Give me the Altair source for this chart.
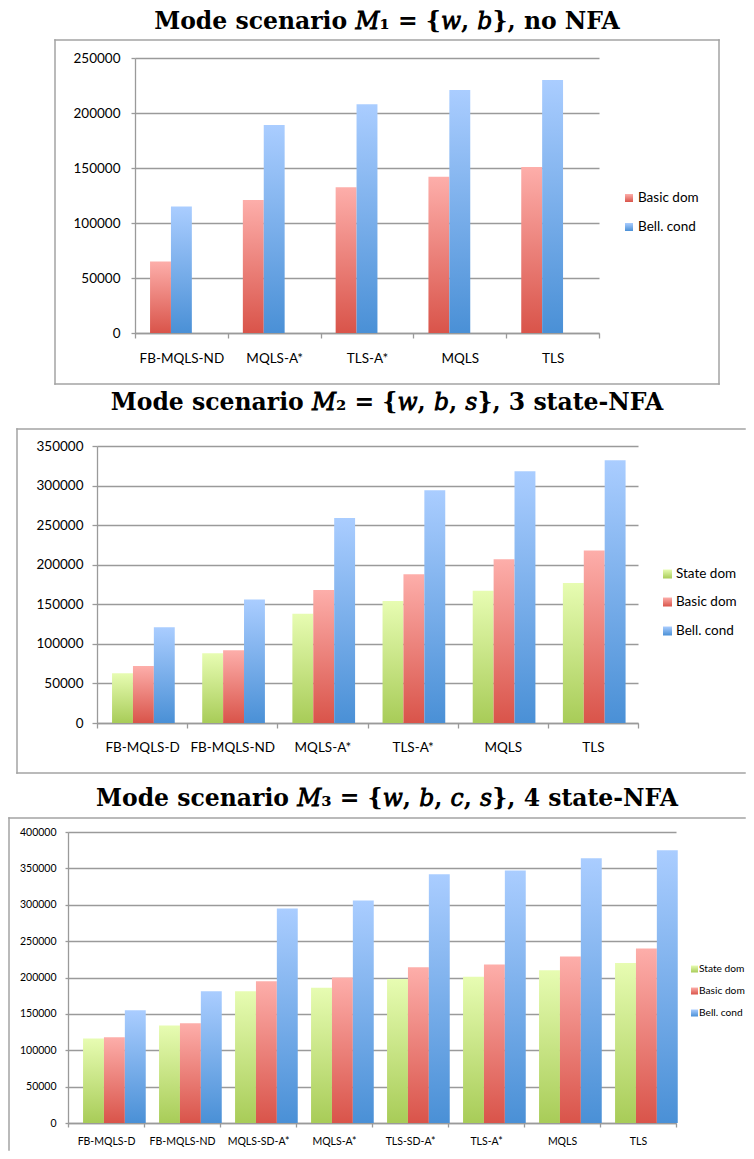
import altair as alt
import pandas as pd

# ---------------- data ----------------
series_names = ["State dom", "Basic dom", "Bell. cond"]

cats1 = ["FB-MQLS-ND", "MQLS-A*", "TLS-A*", "MQLS", "TLS"]
basic1 = [65000, 121000, 132500, 142000, 151000]
bell1 = [115000, 189000, 208000, 221000, 230000]

cats2 = ["FB-MQLS-D", "FB-MQLS-ND", "MQLS-A*", "TLS-A*", "MQLS", "TLS"]
state2 = [63000, 88000, 138000, 154000, 167000, 177000]
basic2 = [72000, 92000, 168000, 188000, 207000, 218000]
bell2 = [121000, 156000, 259000, 294000, 318000, 332000]

cats3 = ["FB-MQLS-D", "FB-MQLS-ND", "MQLS-SD-A*", "MQLS-A*", "TLS-SD-A*", "TLS-A*", "MQLS", "TLS"]
state3 = [116000, 134000, 181000, 186000, 198000, 201000, 210000, 220000]
basic3 = [118000, 137000, 195000, 200000, 214000, 218000, 229000, 240000]
bell3 = [155000, 181000, 295000, 306000, 342000, 347000, 364000, 375000]

titles = [
    "Mode scenario \U0001D440\u2081 = {\U0001D464, \U0001D44F}, no NFA",
    "Mode scenario \U0001D440\u2082 = {\U0001D464, \U0001D44F, \U0001D460}, 3 state-NFA",
    "Mode scenario \U0001D440\u2083 = {\U0001D464, \U0001D44F, \U0001D450, \U0001D460}, 4 state-NFA",
]

# ---------------- style ----------------
FONT = "Lato"
TITLE_FONT = "DejaVu Serif"
GRAY = "#9a9a9a"
FRAME = "#a3a3a3"
W = 738          # full panel width (abs 8 .. 746)
LW = 1.5         # frame line width
grad_colors = {
    "State dom": ("#e7fcb2", "#a8cc58"),
    "Basic dom": ("#fdaeaa", "#d9544a"),
    "Bell. cond": ("#aacdff", "#4a90d6"),
}


def grad(top, bot):
    return alt.Gradient(
        gradient="linear",
        stops=[alt.GradientStop(color=top, offset=0), alt.GradientStop(color=bot, offset=1)],
        x1=0, x2=0, y1=0, y2=1,
    )


def one(**kw):
    return pd.DataFrame([kw])


def line_rect(x1, x2, y1, y2):
    return alt.Chart(one(k=1)).mark_rect(fill=FRAME, strokeWidth=0).encode(
        x=alt.value(x1), x2=alt.value(x2), y=alt.value(y1), y2=alt.value(y2))


def panel(title, cats, series, ymax, P):
    top = P["plot_top"]
    H = P["plot_bottom"] - top
    gx = lambda a: a - 8
    gy = lambda a: a - top
    names = list(series.keys())
    rows = []
    for si, (s, vals) in enumerate(series.items()):
        for c, v in zip(cats, vals):
            rows.append({"algo": c, "series": s, "sidx": si, "value": v})
    df = pd.DataFrame(rows)

    base = alt.Chart(df).encode(
        x=alt.X(
            "algo:N", sort=cats, title=None,
            scale=alt.Scale(domain=cats, range=[gx(P["L"]), gx(P["R"])], paddingInner=0, paddingOuter=0),
            axis=alt.Axis(labelAngle=0, tickBand="extent", domainColor=GRAY, domainWidth=1.3,
                          tickColor=GRAY, tickWidth=1.3, tickSize=P["xtick"], labelPadding=P["xpad"],
                          labelFont=FONT, labelFontSize=P["xfs"], labelColor="black", grid=False),
        ),
        xOffset=alt.XOffset("sidx:O",
                            scale=alt.Scale(domain=list(range(len(names))), paddingOuter=P["po"], paddingInner=0)),
        y=alt.Y(
            "value:Q", title=None,
            scale=alt.Scale(domain=[0, ymax], nice=False),
            axis=alt.Axis(values=list(range(0, ymax + 1, 50000)), format="d", offset=-gx(P["L"]),
                          domainColor=GRAY, domainWidth=1.3, tickColor=GRAY, tickWidth=1.3,
                          tickSize=P["ytick"], gridColor=GRAY, gridWidth=1.3,
                          labelFont=FONT, labelFontSize=P["yfs"], labelColor="black",
                          labelPadding=P["ypad"]),
        ),
    )

    layers = []
    # spacer that fixes the panel's bounds
    layers.append(alt.Chart(one(k=1)).mark_rect(fill="white", fillOpacity=0, strokeWidth=0).encode(
        x=alt.value(0), x2=alt.value(W),
        y=alt.value(gy(P["panel_top"])), y2=alt.value(gy(P["panel_bottom"]))))
    # frame (drawn as thin filled rects)
    fl, ft, fr, fb = P["frame"]
    h = LW / 2
    layers.append(line_rect(gx(fl) - h, gx(fr) + h, gy(ft) - h, gy(ft) + h))      # top
    layers.append(line_rect(gx(fl) - h, gx(fl) + h, gy(ft) - h, gy(fb) + h))      # left
    if P.get("bottom_line"):
        layers.append(line_rect(gx(fl) - h, gx(fr) + h, gy(fb) - h, gy(fb) + h))  # bottom
    if P.get("right_line"):
        layers.append(line_rect(gx(fr) - h, gx(fr) + h, gy(ft) - h, gy(fb) + h))  # right

    # bars
    for s in names:
        layers.append(base.transform_filter(alt.datum.series == s).mark_bar(fill=grad(*grad_colors[s])))

    # legend
    sw = P["sw"]
    for s, ly in zip(names, P["leg_y"]):
        layers.append(alt.Chart(one(name=s)).mark_rect(fill=grad(*grad_colors[s])).encode(
            x=alt.value(gx(P["sw_x"])), x2=alt.value(gx(P["sw_x"]) + sw),
            y=alt.value(gy(ly) - sw / 2), y2=alt.value(gy(ly) + sw / 2)))
        layers.append(alt.Chart(one(name=s)).mark_text(
            align="left", baseline="middle", font=FONT, fontSize=P["lfs"], color="black").encode(
            x=alt.value(gx(P["txt_x"])), y=alt.value(gy(ly)), text="name:N"))

    # title
    layers.append(alt.Chart(one(t=title)).mark_text(
        align="center", baseline="alphabetic", font=TITLE_FONT, fontWeight="bold",
        fontSize=P["tfs"], color="black").encode(
        x=alt.value(gx(387)), y=alt.value(gy(P["title_y"])), text="t:N"))

    return alt.layer(*layers).properties(width=W, height=H)


P1 = dict(plot_top=58, plot_bottom=333, L=135, R=599, panel_top=8, panel_bottom=390,
          frame=(55, 40, 719, 384), bottom_line=True, right_line=True, title_y=29, tfs=23.5,
          sw_x=625, sw=8, txt_x=638, leg_y=[198, 227], lfs=13.5,
          xfs=13.5, yfs=13.5, xtick=5, ytick=4, xpad=13, ypad=11, po=0.72)
P2 = dict(plot_top=446, plot_bottom=723, L=97, R=638, panel_top=390, panel_bottom=780,
          frame=(17, 429, 745, 773), bottom_line=True, title_y=410, tfs=23.5,
          sw_x=663, sw=9, txt_x=676, leg_y=[574, 602, 631], lfs=13.5,
          xfs=13.5, yfs=13.5, xtick=5, ytick=5, xpad=12, ypad=9, po=0.72)
P3 = dict(plot_top=832, plot_bottom=1123, L=68, R=676, panel_top=780, panel_bottom=1151,
          frame=(9, 818, 745, 1150), title_y=806, tfs=23.5,
          sw_x=691, sw=7, txt_x=699, leg_y=[969, 991, 1013], lfs=10.2,
          xfs=10.5, yfs=10.5, xtick=4, ytick=3, xpad=9, ypad=9, po=0.69)

c1 = panel(titles[0], cats1, {"Basic dom": basic1, "Bell. cond": bell1}, 250000, P1)
c2 = panel(titles[1], cats2, {"State dom": state2, "Basic dom": basic2, "Bell. cond": bell2}, 350000, P2)
c3 = panel(titles[2], cats3, {"State dom": state3, "Basic dom": basic3, "Bell. cond": bell3}, 400000, P3)

chart = alt.vconcat(c1, c2, c3, spacing=0, bounds="full", padding=0).configure_view(strokeWidth=0)

chart.save("out.html", embed_options={"renderer": "svg", "actions": False})
